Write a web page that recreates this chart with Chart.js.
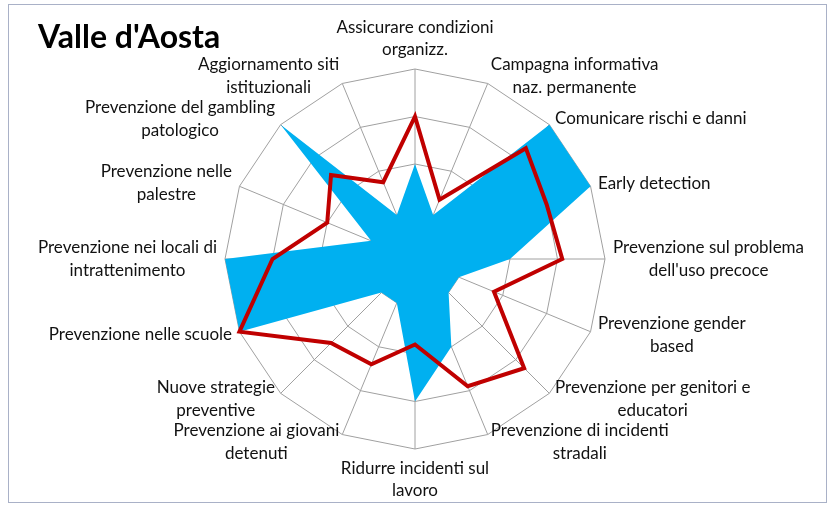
<!DOCTYPE html>
<html>
<head>
<meta charset="utf-8">
<script src="https://cdn.jsdelivr.net/npm/chart.js@4.4.0/dist/chart.umd.min.js"></script>
<style>
  html, body { margin: 0; padding: 0; background: #fff; }
  #chartBox { position: relative; width: 834px; height: 506px; }
</style>
</head>
<body>
<div id="chartBox"><canvas id="radarChart" width="834" height="506"></canvas></div>
<script>
// categorie (in senso orario partendo dall'alto)
const categories = [
	['Assicurare condizioni', 'organizz.'],
	['Campagna informativa', 'naz. permanente'],
	['Comunicare rischi e danni'],
	['Early detection'],
	['Prevenzione sul problema', "dell'uso precoce"],
	['Prevenzione gender', 'based'],
	['Prevenzione per genitori e', 'educatori'],
	['Prevenzione di incidenti', 'stradali'],
	['Ridurre incidenti sul', 'lavoro'],
	['Prevenzione ai giovani', 'detenuti'],
	['Nuove strategie', 'preventive'],
	['Prevenzione nelle scuole'],
	['Prevenzione nei locali di', 'intrattenimento'],
	['Prevenzione nelle', 'palestre'],
	['Prevenzione del gambling', 'patologico'],
	['Aggiornamento siti', 'istituzionali']
];

// serie area (blu)
const blueValues = [2, 1, 4, 4, 2, 1, 1, 2, 3, 1, 1, 4, 4, 1, 4, 1];
// serie linea (rossa)
const redValues = [3, 1.35, 3.3, 3, 3.1, 1.8, 3.25, 2.9, 1.8, 2.4, 2.5, 4, 3, 2, 2.5, 1.75];

const scaleMin = 0;
const scaleMax = 4;
const scaleStep = 1;

const chartTitle = "Valle d'Aosta";

const LABEL_FONT = '17px Lato, "Open Sans", sans-serif';
const LINE_H = 22.5;

/**
 * etichette stile Excel + titolo + cornice
 */
const excelLabels = {
	id: 'excelLabels',
	beforeDraw(chart) {
		const ctx = chart.ctx;
		ctx.save();
		ctx.strokeStyle = '#a9b1c7';
		ctx.lineWidth = 1;
		ctx.strokeRect(8.5, 4.5, 818, 498);
		ctx.restore();
	},
	afterDraw(chart) {
		const ctx = chart.ctx;
		const r = chart.scales.r;
		ctx.save();
		ctx.font = LABEL_FONT;
		ctx.fillStyle = '#111';
		ctx.textBaseline = 'middle';
		ctx.textAlign = 'center';
		categories.forEach((lines, i) => {
			const p = r.getPointPosition(i, r.drawingArea + 8);
			const deg = 360 / categories.length * i;
			const w = Math.max(...lines.map(s => ctx.measureText(s).width));
			const h = lines.length * LINE_H;
			let cx, top;
			if (deg === 0) { cx = p.x; top = p.y - h; }
			else if (deg === 180) { cx = p.x; top = p.y; }
			else if (deg < 180) { cx = p.x + w / 2; top = p.y - h / 2; }
			else { cx = p.x - w / 2; top = p.y - h / 2; }
			lines.forEach((s, k) => ctx.fillText(s, cx, top + LINE_H * (k + 0.5)));
		});
		ctx.font = 'bold 32px Lato, "Open Sans", sans-serif';
		ctx.textAlign = 'left';
		ctx.textBaseline = 'alphabetic';
		ctx.fillStyle = '#000';
		ctx.fillText(chartTitle, 38, 48);
		ctx.restore();
	}
};

new Chart(document.getElementById('radarChart'), {
	type: 'radar',
	data: {
		labels: categories,
		datasets: [{
			label: 'Rosso',
			data: redValues,
			fill: false,
			borderColor: '#c00000',
			borderWidth: 4,
			borderJoinStyle: 'miter',
			pointRadius: 0
		}, {
			label: 'Blu',
			data: blueValues,
			fill: true,
			backgroundColor: '#00b0f0',
			borderWidth: 0,
			pointRadius: 0
		}]
	},
	options: {
		responsive: false,
		animation: false,
		layout: {
			padding: { left: 225, right: 229, top: 69, bottom: 57 }
		},
		plugins: {
			legend: { display: false },
			tooltip: { enabled: false }
		},
		elements: {
			line: { tension: 0 }
		},
		scales: {
			r: {
				min: scaleMin,
				max: scaleMax,
				ticks: { stepSize: scaleStep, display: false },
				pointLabels: { display: false },
				grid: { color: '#a0a0a0', lineWidth: 1 },
				angleLines: { color: '#a0a0a0', lineWidth: 1 }
			}
		}
	},
	plugins: [excelLabels]
});
</script>
</body>
</html>
